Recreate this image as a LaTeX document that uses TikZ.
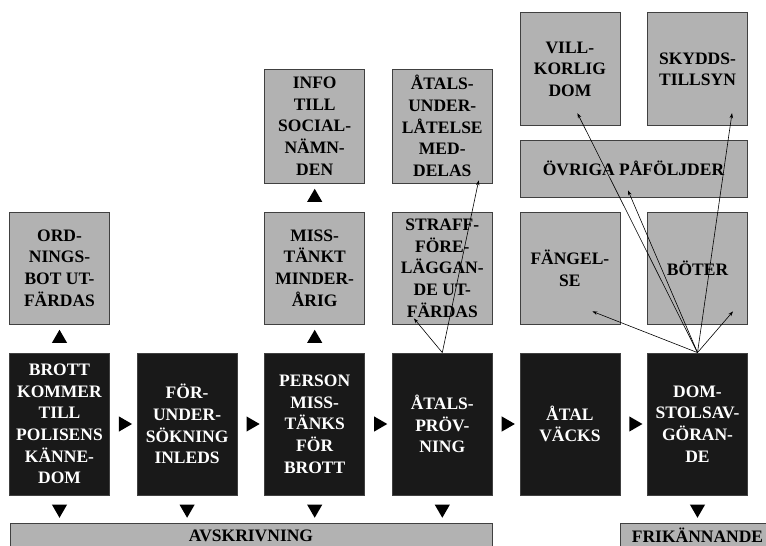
\documentclass[tikz,border=0pt]{standalone}
\usepackage{fontspec}
\setmainfont{Liberation Serif}
\usetikzlibrary{positioning,shapes.geometric,arrows.meta}

\begin{document}
\begin{tikzpicture}[x=1pt, y=-1pt, node distance=127.6pt,
 blackbox/.style={rectangle, draw=black!75, line width=0.8pt, fill=black!90, text=white, align=center, inner sep=0pt, minimum width=100pt, minimum height=142pt, font=\fontsize{17.5}{21.7}\selectfont\bfseries},
 greybox/.style={rectangle, draw=black!75, line width=0.8pt, fill=black!30, text=black, align=center, inner sep=0pt, minimum width=100pt, minimum height=112pt, font=\fontsize{17.5}{21.7}\selectfont\bfseries},
 tri/.style={regular polygon, regular polygon sides=3, fill=black, inner sep=0pt, minimum size=17.5pt},
 tri right/.style={tri, shape border rotate=-90},
 tri down/.style={tri, shape border rotate=180},
 arr/.style={-{Stealth[length=5pt,width=3.5pt]}, line width=0.6pt}]

   \useasboundingbox (0,0) rectangle (766,546);

                % black row
                \node[blackbox] (1) at (59.5,424) {BROTT\\KOMMER\\TILL\\POLISENS\\KÄNNE-\\DOM};
                \node[blackbox] (2) [right of=1] {FÖR-\\UNDER-\\SÖKNING\\INLEDS};
                \node[blackbox] (3) [right of=2] {PERSON\\MISS-\\TÄNKS\\FÖR\\BROTT};
                \node[blackbox] (4) [right of=3] {ÅTALS-\\PRÖV-\\NING};
                \node[blackbox] (5) [right of=4] {ÅTAL\\VÄCKS};
                \node[blackbox] (6) [right of=5] {DOM-\\STOLSAV-\\GÖRAN-\\DE};

                % grey boxes
                \node[greybox] (7) [above of=1, node distance=156pt] {ORD-\\NINGS-\\BOT UT-\\FÄRDAS};
                \node[greybox] (8) [above of=3, node distance=156pt] {MISS-\\TÄNKT\\MINDER-\\ÅRIG};
                \node[greybox, minimum height=114pt] (9) [above of=8, node distance=142pt] {INFO\\TILL\\SOCIAL-\\NÄMN-\\DEN};
                \node[greybox] (10) [above of=4, node distance=156pt] {STRAFF-\\FÖRE-\\LÄGGAN-\\DE UT-\\FÄRDAS};
                \node[greybox, minimum height=114pt] (11) [above of=10, node distance=142pt] {ÅTALS-\\UNDER-\\LÅTELSE\\MED-\\DELAS};
                \node[greybox] (12) [above of=5, node distance=156pt] {FÄNGEL-\\SE};
                \node[greybox] (13) [above of=6, node distance=156pt] {BÖTER};
                \node[greybox, minimum width=227pt, minimum height=57pt] (14) at (633.5,168.5) {ÖVRIGA PÅFÖLJDER};
                \node[greybox, minimum height=113pt] (15) [above of=12, node distance=198.7pt] {VILL-\\KORLIG\\DOM};
                \node[greybox, minimum height=113pt] (16) [above of=13, node distance=198.7pt] {SKYDDS-\\TILLSYN};
                \node[greybox, minimum width=482pt, minimum height=25pt] (17) at (251,535.5) {AVSKRIVNING};
                \node[greybox, minimum width=155pt, minimum height=25pt] (18) at (697.5,535.5) {FRIKÄNNANDE};

                % triangles
                \path (1) -- node[tri right] {} (2)
                      (2) -- node[tri right] {} (3)
                      (3) -- node[tri right] {} (4)
                      (4) -- node[tri right] {} (5)
                      (5) -- node[tri right] {} (6);
                \path (1.north) -- node[tri] {} (7.south)
                      (3.north) -- node[tri] {} (8.south)
                      (8.north) -- node[tri] {} (9.south);
                \path (1.south) -- node[tri down] {} (1.south |- 17.north)
                      (2.south) -- node[tri down] {} (2.south |- 17.north)
                      (3.south) -- node[tri down] {} (3.south |- 17.north)
                      (4.south) -- node[tri down] {} (4.south |- 17.north)
                      (6.south) -- node[tri down] {} (18.north);

                % thin arrows
                \draw[arr] (4.north) -- ([xshift=22pt,yshift=6pt]10.south west);
                \draw[arr] (4.north) -- ([xshift=-14pt,yshift=3pt]11.south east);
                \draw[arr] (6.north) -- ([xshift=22.5pt,yshift=13pt]12.south);
                \draw[arr] (6.north) -- ([xshift=35.5pt,yshift=13pt]13.south);
                \draw[arr] (6.north) -- ([xshift=-5.5pt,yshift=7pt]14.south);
                \draw[arr] (6.north) -- ([xshift=7.5pt,yshift=13pt]15.south);
                \draw[arr] (6.north) -- ([xshift=34.5pt,yshift=13pt]16.south);
\end{tikzpicture}
\end{document}
